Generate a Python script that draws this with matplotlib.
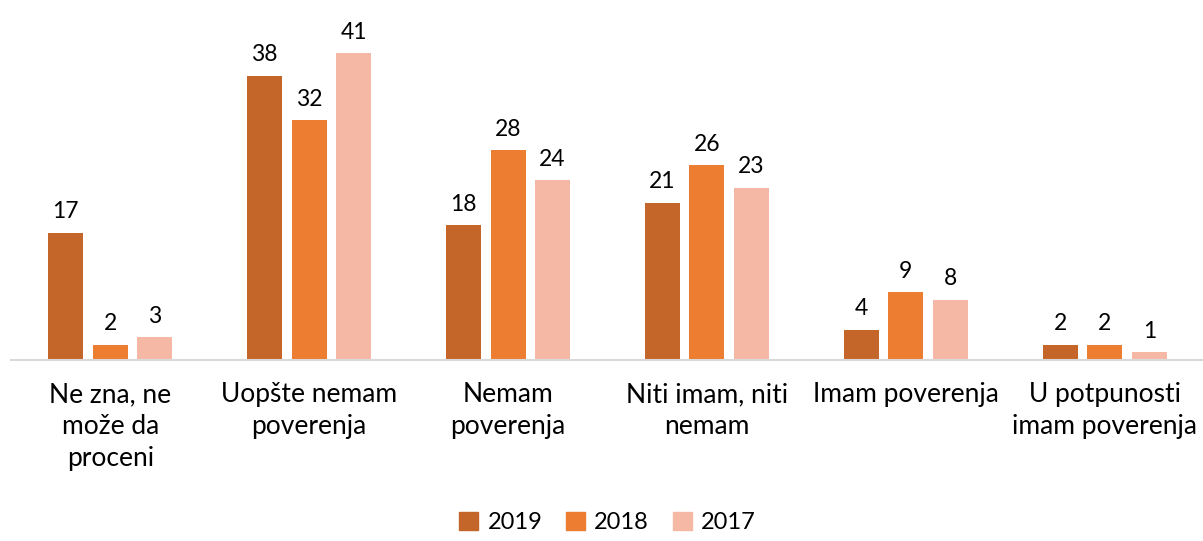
import numpy as np
import matplotlib
matplotlib.use("Agg")
import matplotlib.pyplot as plt
from matplotlib.patches import Patch

categories = ["Ne zna, ne\nmože da\nproceni", "Uopšte nemam\npoverenja", "Nemam\npoverenja",
              "Niti imam, niti\nnemam", "Imam poverenja", "U potpunosti\nimam poverenja"]
years = ["2019", "2018", "2017"]
v2019 = [17, 38, 18, 21, 4, 2]
v2018 = [2, 32, 28, 26, 9, 2]
v2017 = [3, 41, 24, 23, 8, 1]
colors = ["#C4652A", "#ED7D31", "#F4B8A4"]

plt.rcParams["font.family"] = ["Lato", "DejaVu Sans"]

fig = plt.figure(figsize=(12.03, 5.41), dpi=100)
ax = fig.add_axes([0.009, 0.335, 0.992, 0.665])

x = np.arange(len(categories))
width = 0.176
step = 0.224
for i, (vals, col) in enumerate(zip([v2019, v2018, v2017], colors)):
    pos = x + (i - 1) * step
    bars = ax.bar(pos, vals, width, color=col, label=years[i])
    for b, v in zip(bars, vals):
        ax.text(b.get_x() + b.get_width() / 2, v + 1.4, str(v),
                ha="center", va="bottom", fontsize=16.5, color="#000000")

ax.set_xlim(-0.5, len(categories) - 0.5)
ax.set_ylim(0, 48.1)
for s in ["top", "right", "left"]:
    ax.spines[s].set_visible(False)
ax.spines["bottom"].set_color("#D9D9D9")
ax.spines["bottom"].set_linewidth(1.5)
ax.set_yticks([])
ax.set_xticks(x)
ax.set_xticklabels(categories, fontsize=19, linespacing=1.35, va="top")
ax.tick_params(axis="x", length=0, pad=16)

handles = [Patch(color=c) for c in colors]
fig.legend(handles, years, loc="lower center", ncol=3, frameon=False,
           fontsize=17, bbox_to_anchor=(0.505, -0.025), handlelength=0.8,
           handleheight=0.8, columnspacing=1.0, handletextpad=0.4)

fig.savefig("out.png", dpi=100)
